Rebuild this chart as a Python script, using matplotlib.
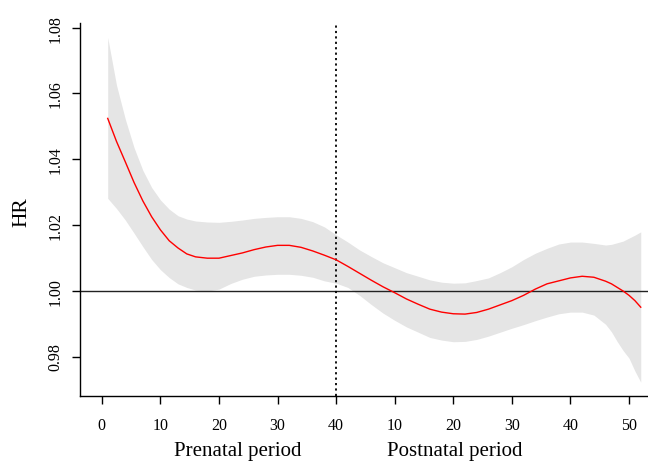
import matplotlib
matplotlib.use("Agg")
import matplotlib.pyplot as plt

plt.rcParams['font.family'] = ['Liberation Serif', 'DejaVu Serif']

# Week index: 1-40 prenatal, 41-92 postnatal (weeks 1-52)
weeks = [1, 2.5, 4, 5.5, 7, 8.5, 10, 11.5, 13, 14.5, 16, 18, 20, 22, 24, 26, 28, 30, 32, 34,
         36, 38, 40, 42, 44, 46, 48, 50, 52, 54, 56, 58, 60, 62, 64, 66, 68, 70, 72, 74,
         76, 78, 80, 82, 84, 86, 87, 88, 89, 90, 91, 92]
hr = [1.0524, 1.0454, 1.0392, 1.0329, 1.0273, 1.0225, 1.0185, 1.0152, 1.0130, 1.0112,
      1.0103, 1.0099, 1.0099, 1.0107, 1.0115, 1.0125, 1.0133, 1.0138, 1.0138, 1.0132,
      1.0121, 1.0108, 1.0094, 1.0074, 1.0053, 1.0032, 1.0012, 0.9994, 0.9975, 0.9959,
      0.9944, 0.9935, 0.9930, 0.9929, 0.9934, 0.9944, 0.9957, 0.9970, 0.9986, 1.0005,
      1.0021, 1.0030, 1.0039, 1.0044, 1.0041, 1.0029, 1.0021, 1.0010, 0.9999, 0.9986,
      0.9970, 0.9950]
ci_upper = [1.0770, 1.0625, 1.0522, 1.0435, 1.0366, 1.0314, 1.0276, 1.0248, 1.0228, 1.0218,
            1.0212, 1.0209, 1.0208, 1.0211, 1.0215, 1.0220, 1.0223, 1.0225, 1.0225, 1.0220,
            1.0210, 1.0194, 1.0170, 1.0148, 1.0124, 1.0104, 1.0085, 1.0070, 1.0055, 1.0044,
            1.0033, 1.0026, 1.0023, 1.0024, 1.0031, 1.0039, 1.0055, 1.0073, 1.0095, 1.0114,
            1.0129, 1.0142, 1.0148, 1.0148, 1.0144, 1.0139, 1.0141, 1.0146, 1.0151, 1.0160,
            1.0169, 1.0179]
ci_lower = [1.0281, 1.0250, 1.0215, 1.0175, 1.0134, 1.0095, 1.0064, 1.0040, 1.0021, 1.0010,
            1.0002, 0.9999, 1.0005, 1.0022, 1.0035, 1.0044, 1.0048, 1.0050, 1.0050, 1.0047,
            1.0041, 1.0030, 1.0023, 1.0010, 0.9986, 0.9958, 0.9932, 0.9910, 0.9890, 0.9874,
            0.9858, 0.9850, 0.9845, 0.9846, 0.9852, 0.9862, 0.9874, 0.9886, 0.9897, 0.9909,
            0.9920, 0.9930, 0.9935, 0.9935, 0.9926, 0.9898, 0.9875, 0.9845, 0.9818, 0.9795,
            0.9756, 0.9722]

xtick_pos = [0, 10, 20, 30, 40, 50, 60, 70, 80, 90]
xtick_labels = ['0', '10', '20', '30', '40', '10', '20', '30', '40', '50']
ytick_pos = [0.98, 1.00, 1.02, 1.04, 1.06, 1.08]
ytick_labels = ['0.98', '1.00', '1.02', '1.04', '1.06', '1.08']
birth_week = 40
reference_hr = 1.0

fig = plt.figure(figsize=(6.48, 4.64), dpi=100)
ax = fig.add_axes([80.3 / 648, 1 - 397 / 464, (662.3 - 80.3) / 648, (397 - 24) / 464])

ax.fill_between(weeks, ci_lower, ci_upper, color='#e5e5e5', linewidth=0)
ax.axhline(reference_hr, color='#222222', linewidth=1.0)
ax.axvline(birth_week, color='black', linestyle=(0, (1.2, 1.8)), linewidth=1.3)
ax.plot(weeks, hr, color='red', linewidth=1.0)

ax.set_xlim(-3.68, 95.68)
ax.set_ylim(0.9680, 1.0814)

for s in ['top', 'right']:
    ax.spines[s].set_visible(False)
for s in ['left', 'bottom']:
    ax.spines[s].set_linewidth(1.0)

ax.set_xticks(xtick_pos)
ax.set_xticklabels(xtick_labels, fontsize=11.5)
ax.set_yticks(ytick_pos)
ax.set_yticklabels(ytick_labels, fontsize=11.5, rotation=90, va='center')
ax.tick_params(direction='out', length=6, width=1.0)
ax.tick_params(axis='x', pad=9)
ax.tick_params(axis='y', pad=6)

fig.text(238 / 648, 1 - 452 / 464, 'Prenatal period', ha='center', va='center', fontsize=15)
fig.text(455 / 648, 1 - 452 / 464, 'Postnatal period', ha='center', va='center', fontsize=15)
fig.text(22 / 648, 1 - 212 / 464, 'HR', ha='center', va='center', fontsize=15.5, rotation=90)

fig.savefig('out.png', dpi=100)
